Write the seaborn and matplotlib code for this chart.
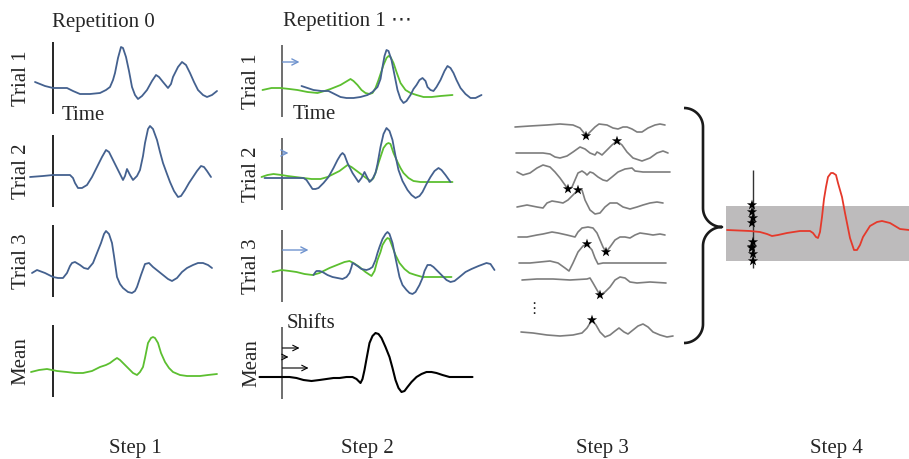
import numpy as np
import matplotlib
matplotlib.use("Agg")
import matplotlib.pyplot as plt
import seaborn as sns

sns.set_style("white")
plt.rcParams['font.family'] = ['Liberation Serif', 'DejaVu Sans']

W, H = 909, 459

# ---------------- data: (time offset from onset, amplitude) ----------------
# Step 1, repetition 0
s1_trial1_t = [-18, -8, 0, 8, 14, 20, 27, 37, 47, 53, 57, 60, 62, 65, 68, 70, 73, 76, 79, 82, 85, 89, 94, 99, 103, 106, 110, 115, 118, 120, 125, 129, 133, 137, 141, 145, 150, 154, 159, 164]
s1_trial1_v = [-4, -8, -10, -10, -10, -13, -16, -16, -15, -12, -9, -2, 5, 20, 31, 30, 21, 7, -9, -17, -21, -18, -12, -3, 3, 1, -4, -10, -6, 1, 11, 16, 13, 5, -4, -12, -17, -19, -17, -13]
s1_trial2_t = [-23, -10, 0, 10, 17, 20, 22, 25, 29, 34, 39, 44, 49, 53, 56, 60, 65, 70, 72, 74, 77, 80, 84, 87, 90, 92, 95, 97, 100, 104, 107, 110, 114, 117, 121, 125, 128, 132, 136, 140, 144, 148, 151, 154, 158]
s1_trial2_v = [-6, -5, -4, -4, -4, -7, -12, -17, -17, -14, -6, 4, 14, 21, 19, 11, 1, -9, -5, 2, -4, -9, -5, 1, 15, 28, 42, 45, 42, 31, 19, 8, -3, -11, -20, -26, -25, -19, -12, -6, 0, 5, 4, 0, -6]
s1_trial3_t = [-21, -16, -8, 0, 5, 10, 14, 17, 19, 22, 27, 31, 35, 40, 44, 48, 51, 53, 56, 59, 61, 64, 67, 70, 75, 79, 82, 84, 88, 92, 96, 100, 105, 110, 115, 119, 124, 129, 134, 140, 145, 150, 155, 159]
s1_trial3_v = [-12, -9, -12, -16, -17, -17, -12, -5, -2, -1, -4, -7, -8, -2, 8, 18, 27, 30, 27, 18, 5, -16, -23, -27, -31, -32, -30, -26, -14, -3, -2, -6, -10, -14, -18, -20, -17, -11, -7, -4, -2, -2, -4, -7]
s1_mean_t = [-22, -14, -6, 4, 14, 22, 30, 39, 47, 53, 57, 61, 64, 67, 70, 76, 80, 84, 87, 90, 92, 95, 98, 100, 102, 105, 108, 112, 116, 120, 127, 134, 147, 155, 164]
s1_mean_v = [-11, -9, -8, -10, -11, -12, -12, -10, -6, -4, -2, 1, 3, 1, -2, -8, -12, -14, -11, -6, 3, 18, 23, 24, 23, 18, 8, -1, -7, -11, -14, -15, -15, -14, -13]

# Step 2, repetition 1: trials (blue) against the shifted mean (green)
s2_trial1_t = [20, 26, 32, 40, 47, 53, 59, 65, 72, 79, 86, 91, 96, 99, 101, 103, 105, 107, 110, 113, 116, 119, 122, 125, 129, 132, 135, 138, 141, 144, 146, 149, 152, 155, 159, 163, 166, 169, 172, 175, 179, 184, 189, 194, 200]
s2_trial1_v = [-5, -7, -9, -10, -10, -13, -16, -17, -17, -16, -14, -11, -6, 2, 14, 25, 31, 30, 21, 6, -9, -18, -22, -20, -14, -8, -4, 1, 3, 0, -6, -9, -10, -6, 1, 10, 15, 13, 8, 1, -7, -13, -17, -17, -14]
s2_mean1_t = [-19, -10, -1, 8, 16, 26, 36, 43, 49, 54, 59, 64, 69, 72, 76, 80, 84, 88, 91, 94, 97, 100, 102, 105, 107, 109, 112, 115, 119, 124, 129, 135, 142, 150, 159, 171]
s2_mean1_v = [-9, -7, -7, -8, -9, -11, -12, -10, -8, -6, -4, -1, 2, 0, -4, -9, -12, -13, -12, -7, 1, 10, 16, 23, 25, 24, 18, 9, -2, -9, -12, -14, -16, -16, -15, -14]
s2_trial2_t = [-17, -8, -1, 10, 22, 25, 27, 31, 34, 37, 42, 47, 52, 56, 59, 61, 63, 66, 71, 77, 80, 83, 85, 88, 91, 94, 96, 99, 102, 105, 108, 111, 114, 117, 121, 126, 130, 134, 138, 141, 145, 149, 153, 157, 160, 164, 169]
s2_trial2_v = [-4, -4, -4, -4, -4, -6, -9, -15, -15, -14, -9, -3, 6, 14, 19, 21, 19, 11, 1, -8, -4, 2, -2, -8, -5, 1, 10, 27, 40, 46, 43, 34, 18, 4, -7, -16, -21, -24, -22, -18, -10, -3, 3, 6, 4, -1, -8]
s2_mean2_t = [-20, -14, -8, 0, 6, 14, 22, 30, 39, 46, 52, 58, 62, 66, 70, 74, 78, 82, 86, 89, 92, 95, 97, 100, 102, 105, 107, 109, 112, 116, 119, 122, 127, 132, 139, 146, 159, 171]
s2_mean2_v = [-3, -1, 0, -1, -2, -3, -4, -5, -5, -3, 0, 3, 6, 9, 7, 4, 1, -2, -5, -7, -4, 4, 11, 20, 26, 30, 31, 30, 21, 12, 6, 1, -4, -7, -8, -8, -8, -8]
s2_trial3_t = [32, 34, 35, 38, 41, 46, 51, 56, 61, 65, 68, 70, 71, 73, 76, 80, 85, 88, 91, 94, 96, 98, 101, 104, 106, 108, 111, 114, 118, 121, 125, 128, 131, 134, 138, 141, 143, 146, 149, 152, 155, 160, 165, 169, 173, 178, 184, 190, 197, 205, 209, 213]
s2_trial3_v = [-9, -6, -5, -5, -6, -9, -11, -12, -13, -11, -7, -1, 3, 2, 0, -3, -4, -3, -1, 6, 13, 19, 27, 32, 34, 32, 23, 8, -11, -19, -24, -27, -28, -26, -19, -12, -5, 1, 1, -1, -4, -9, -14, -16, -15, -11, -6, -3, 0, 3, 2, -4]
s2_mean3_t = [-9, 0, 8, 15, 23, 31, 38, 44, 48, 53, 58, 63, 68, 72, 78, 84, 90, 93, 96, 99, 101, 104, 106, 108, 111, 114, 118, 123, 128, 134, 141, 150, 158, 170]
s2_mean3_v = [-6, -4, -5, -6, -8, -9, -7, -4, -2, 0, 2, 4, 5, 3, -1, -6, -10, -5, 6, 14, 21, 26, 28, 27, 19, 11, 3, -3, -7, -9, -11, -11, -11, -11]
s2_newmean_t = [-22, -10, 0, 8, 15, 22, 30, 38, 45, 52, 58, 65, 71, 75, 79, 81, 83, 85, 88, 91, 94, 97, 100, 104, 108, 111, 114, 117, 120, 123, 126, 130, 135, 140, 145, 150, 155, 161, 168, 180, 191]
s2_newmean_v = [-14, -14, -14, -14, -15, -17, -18, -17, -16, -15, -15, -14, -14, -16, -20, -16, -7, 4, 20, 27, 30, 29, 25, 16, 6, -5, -17, -25, -29, -28, -24, -19, -14, -11, -9, -9, -10, -12, -14, -14, -14]
shifts = [17, 6, 26]

# Step 3: single-trial traces with detected latencies (star = point index)
s3_t = [
    [0, 15, 32, 45, 58, 65, 69, 71, 75, 80, 84, 92, 98, 103, 108, 112, 117, 122, 127, 133, 140, 145, 150],
    [1, 15, 28, 35, 40, 45, 52, 58, 65, 70, 75, 80, 82, 84, 87, 92, 97, 102, 107, 112, 118, 127, 135, 142, 148, 153],
    [2, 8, 15, 22, 28, 35, 40, 45, 50, 53, 57, 60, 63, 67, 70, 72, 75, 78, 83, 88, 92, 97, 103, 110, 117, 120, 128, 142, 155],
    [2, 12, 22, 28, 32, 37, 43, 48, 53, 58, 63, 67, 70, 75, 80, 85, 90, 95, 102, 108, 115, 122, 128, 135, 142, 148],
    [3, 12, 22, 28, 37, 43, 52, 60, 63, 67, 73, 78, 82, 85, 88, 91, 95, 100, 105, 110, 115, 120, 125, 132, 138, 145, 150],
    [4, 15, 25, 35, 43, 50, 54, 58, 63, 68, 72, 77, 80, 83, 88, 102, 122, 138, 151],
    [7, 22, 38, 55, 72, 75, 78, 82, 85, 90, 95, 100, 105, 110, 115, 122, 135, 151],
    [6, 18, 32, 45, 58, 67, 72, 77, 81, 85, 90, 95, 100, 104, 109, 113, 118, 123, 128, 133, 138, 145, 152, 158],
]
s3_v = [
    [-2, -1, 0, 1, 0, -3, -8, -11, -7, -2, 1, 0, -3, -4, -2, -2, -4, -7, -7, -3, 0, 1, 0],
    [0, 0, 0, -1, -4, -5, -3, 1, 6, 4, 0, -2, 1, 0, -2, 3, 8, 12, 8, 1, -5, -8, -5, 0, 2, 0],
    [0, -3, -1, 4, 7, 5, 0, -6, -13, -17, -15, -8, -1, 1, -1, -3, 0, -1, -5, -8, -9, -5, 0, 3, 4, 1, 0, 0, 0],
    [0, 2, 0, -1, 4, 6, 5, 4, 7, 12, 17, 17, 7, -3, -7, -6, 0, 4, 4, 0, -2, 0, 2, 4, 5, 4],
    [0, 0, 2, 3, 5, 4, 2, 0, 5, 9, 10, 9, 4, -3, -10, -15, -10, -3, 0, 0, -1, 2, 4, 3, 2, 3, 2],
    [1, 1, 2, 3, 1, -4, -7, 1, 12, 18, 20, 14, 6, 0, 1, 1, 1, 1, 1],
    [0, 1, 1, 0, 1, 2, -3, -10, -15, -12, -7, 0, 3, 2, -2, -3, -2, -3],
    [-2, -3, -5, -6, -5, -3, 2, 10, 5, -2, -7, -5, -1, 2, -2, -4, 0, 4, 6, 3, -2, -5, -7, -6],
]
s3_star_idx = [7, 17, 9, 10, 15, 10, 8, 7]

# Step 4: final average and latency distribution
s4_t = [-26, -3, 7, 14, 19, 25, 34, 47, 57, 60, 63, 65, 67, 69, 71, 73, 75, 78, 80, 83, 85, 89, 92, 97, 101, 104, 107, 110, 117, 124, 129, 137, 147, 156]
s4_v = [1, 0, -1, -3, -5, -4, -2, 0, 0, -2, -6, -7, -1, 14, 32, 44, 54, 58, 58, 56, 48, 34, 18, -7, -19, -19, -14, -6, 5, 9, 10, 8, 2, 1]
s4_star_t = [-1, -1, 0, -1, 0, -1, -1, 0, 0]
s4_star_v = [26, 19, 13, 8, -11, -16, -17, -23, -30]
s4_band = (-30, 25)

trial_names = ["Trial 1", "Trial 2", "Trial 3", "Mean"]
step_names = ["Step 1", "Step 2", "Step 3", "Step 4"]

# ---------------- styling / layout ----------------
BLUE = "#44618f"
GREEN = "#5cbf30"
ARROW_BLUE = "#7094cf"
GRAY_AX = "#555555"
TRACE_GRAY = "#7d7d7d"
RED = "#e5392b"
BAND = "#bdbbbc"
FS = 15

fig = plt.figure(figsize=(W / 100, H / 100), dpi=100)
panels = []


def panel(ox, oy):
    ax = fig.add_axes([0, 0, 1, 1])
    panels.append((ax, ox, oy))
    return ax


def curve(ax, t, v, color, lw=1.3, z=2):
    sns.lineplot(x=t, y=v, ax=ax, color=color, linewidth=lw, sort=False,
                 estimator=None, zorder=z)


# Step 1
s1_x = 53
s1_rows = [78, 171, 261, 361]
s1_series = [(s1_trial1_t, s1_trial1_v, BLUE), (s1_trial2_t, s1_trial2_v, BLUE),
             (s1_trial3_t, s1_trial3_v, BLUE), (s1_mean_t, s1_mean_v, GREEN)]
for i, (oy, (t, v, c)) in enumerate(zip(s1_rows, s1_series)):
    ax = panel(s1_x, oy)
    ax.vlines(0, -36, 36, color="black", lw=1.2)
    curve(ax, t, v, c)
    ax.text(-32, 0, trial_names[i], rotation=90, ha="center", va="center", fontsize=FS)
    if i == 0:
        ax.text(50, 56, "Repetition 0", ha="center", va="center", fontsize=FS)
        ax.text(9, -37, "Time", ha="left", va="center", fontsize=FS)

# Step 2
s2_x = 281.5
s2_rows = [81, 174, 266, 363]
s2_pairs = [(s2_trial1_t, s2_trial1_v, s2_mean1_t, s2_mean1_v),
            (s2_trial2_t, s2_trial2_v, s2_mean2_t, s2_mean2_v),
            (s2_trial3_t, s2_trial3_v, s2_mean3_t, s2_mean3_v)]
arrow_y = [19, 21, 16]
for i, oy in enumerate(s2_rows):
    ax = panel(s2_x, oy)
    ax.vlines(0, -36, 36, color=GRAY_AX, lw=1.2)
    ax.text(-29.5, 0, trial_names[i], rotation=90, ha="center", va="center", fontsize=FS)
    if i < 3:
        tt, tv, mt, mv = s2_pairs[i]
        curve(ax, mt, mv, GREEN)
        curve(ax, tt, tv, BLUE, z=3)
        ax.annotate("", xy=(1 + shifts[i], arrow_y[i]), xytext=(1, arrow_y[i]),
                    arrowprops=dict(arrowstyle="->", color=ARROW_BLUE, lw=1.0,
                                    shrinkA=0, shrinkB=0, mutation_scale=11))
    else:
        curve(ax, s2_newmean_t, s2_newmean_v, "black", lw=1.5)
        for s, ay in zip(shifts, [15, 6, -5]):
            ax.annotate("", xy=(1 + s, ay), xytext=(1, ay),
                        arrowprops=dict(arrowstyle="->", color="black", lw=0.8,
                                        shrinkA=0, shrinkB=0, mutation_scale=10))
        ax.text(5, 40, "Shifts", ha="left", va="center", fontsize=FS)
    if i == 0:
        ax.text(1.5, 59, "Repetition 1 \u22ef", ha="left", va="center", fontsize=FS,
                family=["Liberation Serif", "DejaVu Sans"])
        ax.text(11.5, -34, "Time", ha="left", va="center", fontsize=FS)

# Step 3
s3_rows = [125, 153, 172, 207, 237, 264, 280, 330]
ax3 = panel(515, 0)
for t, v, row, si in zip(s3_t, s3_v, s3_rows, s3_star_idx):
    y = [a - row for a in v]
    curve(ax3, t, y, TRACE_GRAY, lw=1.2)
    sns.scatterplot(x=[t[si]], y=[y[si]], ax=ax3, marker="*", s=60, color="black",
                    edgecolor="none", zorder=4)
ax3.text(19, -308, "\u22ee", ha="center", va="center", fontsize=11,
         family=["DejaVu Sans"])

# Step 4
ax4 = panel(753, 231)
ax4.fill_between([-27, 160], s4_band[0], s4_band[1], color=BAND, lw=0, zorder=1)
ax4.vlines(0, -37, 61, color="#333333", lw=1.0, zorder=2)
curve(ax4, s4_t, s4_v, RED, lw=1.3, z=3)
sns.scatterplot(x=s4_star_t, y=s4_star_v, ax=ax4, marker="*", s=60, color="black",
                edgecolor="none", zorder=4)

# Overlay: brace and step labels
axo = panel(0, 0)
r = 19
th = np.linspace(0, np.pi / 2, 30)
parts = []
parts.append((684 + r * np.sin(th), -127 + r * np.cos(th)))
parts.append((np.array([703, 703]), np.array([-127, -208])))
parts.append((722 - r * np.cos(th), -208 - r * np.sin(th)))
parts.append((722 - r * np.sin(th), -246 + r * np.cos(th)))
parts.append((np.array([703, 703]), np.array([-246, -324])))
parts.append((684 + r * np.cos(th), -324 - r * np.sin(th)))
bx = np.concatenate([p[0] for p in parts])
by = np.concatenate([p[1] for p in parts])
axo.plot(bx, by, color="#1a1a1a", lw=1.9, solid_capstyle="butt")
for name, xc in zip(step_names, [135, 367, 602, 836]):
    axo.text(xc, -448, name, ha="center", va="center", fontsize=FS)

for ax, ox, oy in panels:
    ax.set_xlim(-ox, W - ox)
    ax.set_ylim(oy - H, oy)
    ax.axis("off")
    ax.patch.set_alpha(0)
    if ax.get_legend() is not None:
        ax.get_legend().remove()

fig.savefig("out.png", dpi=100)
